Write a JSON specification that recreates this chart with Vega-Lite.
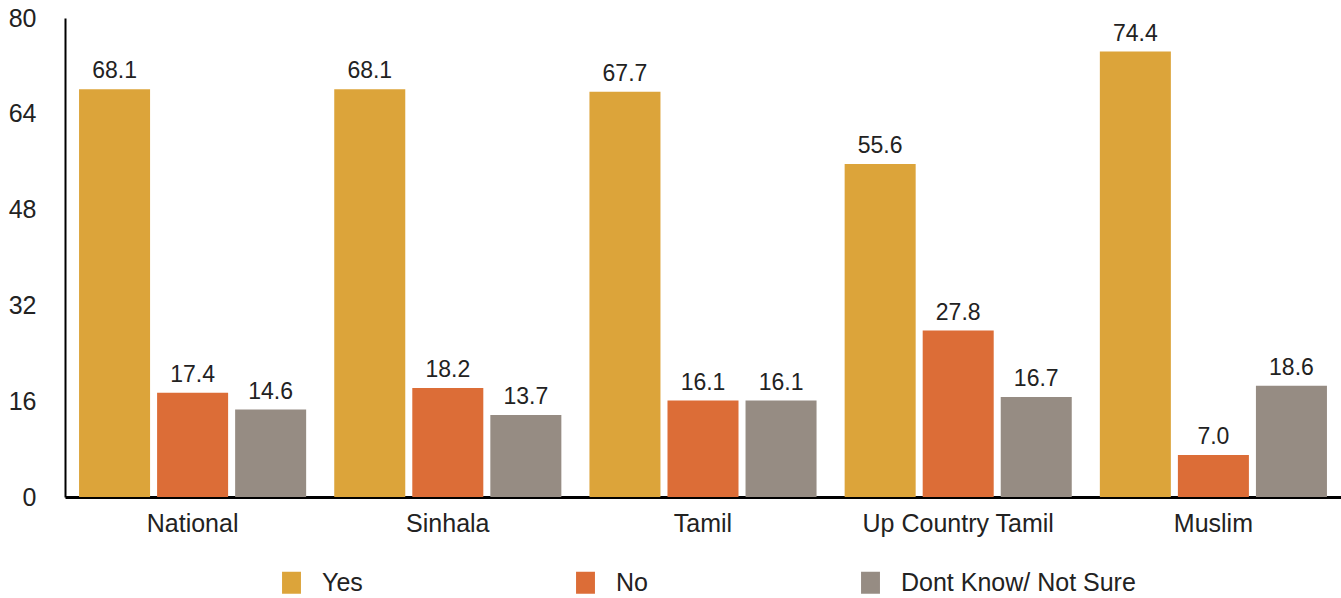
{
  "$schema": "https://vega.github.io/schema/vega-lite/v6.json",
  "autosize": {"type": "none"},
  "width": 1276,
  "height": 479,
  "padding": {"left": 65, "top": 18, "right": 0, "bottom": 101},
  "background": "#ffffff",
  "config": {
    "font": "Liberation Sans",
    "view": {"stroke": null}
  },
  "data": {
    "values": [
      {"group": "National", "answer": "Yes", "value": 68.1},
      {"group": "National", "answer": "No", "value": 17.4},
      {"group": "National", "answer": "Dont Know/ Not Sure", "value": 14.6},
      {"group": "Sinhala", "answer": "Yes", "value": 68.1},
      {"group": "Sinhala", "answer": "No", "value": 18.2},
      {"group": "Sinhala", "answer": "Dont Know/ Not Sure", "value": 13.7},
      {"group": "Tamil", "answer": "Yes", "value": 67.7},
      {"group": "Tamil", "answer": "No", "value": 16.1},
      {"group": "Tamil", "answer": "Dont Know/ Not Sure", "value": 16.1},
      {"group": "Up Country Tamil", "answer": "Yes", "value": 55.6},
      {"group": "Up Country Tamil", "answer": "No", "value": 27.8},
      {"group": "Up Country Tamil", "answer": "Dont Know/ Not Sure", "value": 16.7},
      {"group": "Muslim", "answer": "Yes", "value": 74.4},
      {"group": "Muslim", "answer": "No", "value": 7.0},
      {"group": "Muslim", "answer": "Dont Know/ Not Sure", "value": 18.6}
    ]
  },
  "encoding": {
    "x": {
      "field": "group", "type": "nominal",
      "sort": ["National", "Sinhala", "Tamil", "Up Country Tamil", "Muslim"],
      "scale": {"paddingInner": 0, "paddingOuter": 0},
      "axis": {
        "title": null, "labelAngle": 0, "ticks": false, "labelLimit": 400,
        "domainColor": "#000000", "domainWidth": 3,
        "labelFontSize": 25, "labelColor": "#222222", "labelPadding": 14
      }
    },
    "xOffset": {
      "field": "answer", "type": "nominal",
      "sort": ["Yes", "No", "Dont Know/ Not Sure"],
      "scale": {"paddingInner": 0.09, "paddingOuter": 0.18}
    },
    "y": {
      "field": "value", "type": "quantitative",
      "scale": {"domain": [0, 80], "nice": false},
      "axis": {
        "title": null, "values": [0, 16, 32, 48, 64, 80], "grid": false, "ticks": false,
        "domainColor": "#000000", "domainWidth": 2,
        "labelFontSize": 25, "labelColor": "#222222", "labelPadding": 29
      }
    }
  },
  "layer": [
    {
      "mark": {"type": "bar"},
      "encoding": {
        "color": {
          "field": "answer", "type": "nominal",
          "sort": ["Yes", "No", "Dont Know/ Not Sure"],
          "scale": {"domain": ["Yes", "No", "Dont Know/ Not Sure"], "range": ["#DCA43A", "#DC6D37", "#968C83"]},
          "legend": {
            "title": null, "orient": "none", "direction": "horizontal", "columns": 3,
            "legendX": 214, "legendY": 552,
            "gridAlign": "each", "columnPadding": 210,
            "symbolType": "M-0.86,-1H0.86V1H-0.86Z", "symbolSize": 484,
            "symbolStrokeWidth": 0, "labelFontSize": 25, "labelColor": "#222222",
            "labelOffset": 18, "labelLimit": 400
          }
        }
      }
    },
    {
      "mark": {"type": "text", "baseline": "bottom", "dy": -6, "fontSize": 23, "color": "#222222"},
      "encoding": {
        "text": {"field": "value", "type": "quantitative", "format": ".1f"}
      }
    }
  ]
}
